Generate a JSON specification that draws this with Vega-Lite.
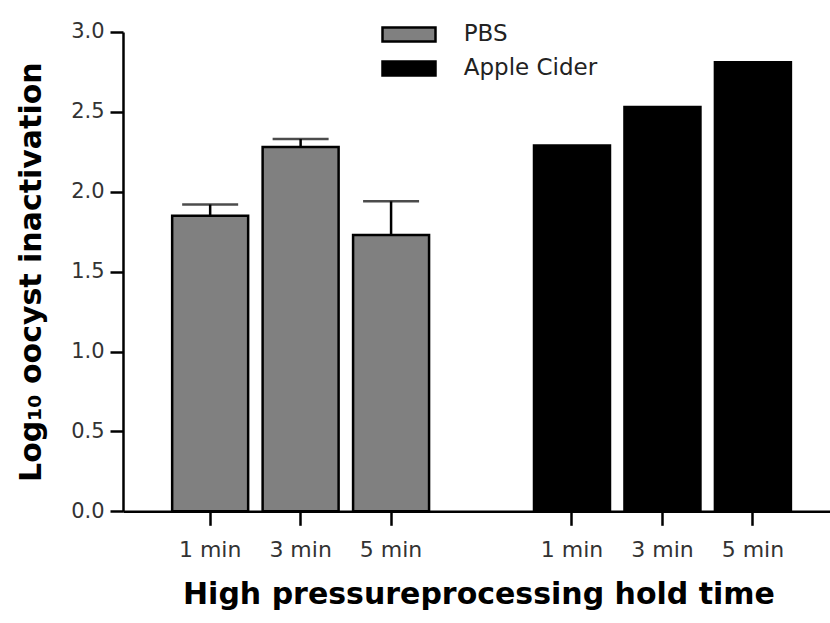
{
  "$schema": "https://vega.github.io/schema/vega-lite/v6.json",
  "background": "white",
  "padding": {"left": 16, "top": 20, "right": 0, "bottom": 8},
  "width": 708.3,
  "height": 479.3,
  "data": {
    "values": [
      {"key": "PBS 1 min", "medium": "PBS", "time": "1 min", "value": 1.85, "upper": 1.92},
      {"key": "PBS 3 min", "medium": "PBS", "time": "3 min", "value": 2.28, "upper": 2.33},
      {"key": "PBS 5 min", "medium": "PBS", "time": "5 min", "value": 1.73, "upper": 1.94},
      {"key": "Apple Cider 1 min", "medium": "Apple Cider", "time": "1 min", "value": 2.29, "upper": null},
      {"key": "Apple Cider 3 min", "medium": "Apple Cider", "time": "3 min", "value": 2.53, "upper": null},
      {"key": "Apple Cider 5 min", "medium": "Apple Cider", "time": "5 min", "value": 2.81, "upper": null}
    ]
  },
  "title": {
    "text": "High pressureprocessing hold time",
    "orient": "bottom",
    "anchor": "middle",
    "frame": "bounds",
    "dx": 55,
    "font": "DejaVu Sans",
    "fontSize": 30,
    "fontWeight": "bold",
    "color": "black",
    "offset": 20
  },
  "config": {
    "view": {"stroke": null},
    "axis": {
      "grid": false,
      "domainColor": "black",
      "domainWidth": 2.5,
      "tickColor": "black",
      "tickWidth": 2.5,
      "labelFont": "DejaVu Sans",
      "labelColor": "#333333",
      "titleFont": "DejaVu Sans",
      "titleColor": "black"
    }
  },
  "encoding": {
    "x": {
      "field": "key",
      "type": "nominal",
      "scale": {
        "domain": ["PBS 1 min", "PBS 3 min", "PBS 5 min", "gap", "Apple Cider 1 min", "Apple Cider 3 min", "Apple Cider 5 min"],
        "paddingInner": 0.16,
        "paddingOuter": 0.495,
        "align": 0.549
      },
      "axis": {
        "title": null,
        "values": ["PBS 1 min", "PBS 3 min", "PBS 5 min", "Apple Cider 1 min", "Apple Cider 3 min", "Apple Cider 5 min"],
        "labelExpr": "slice(datum.label, -5)",
        "labelAngle": 0,
        "labelFontSize": 22,
        "tickSize": 14,
        "labelPadding": 14
      }
    }
  },
  "layer": [
    {
      "mark": {"type": "bar", "stroke": "black", "strokeWidth": 2.5},
      "encoding": {
        "y": {
          "field": "value",
          "type": "quantitative",
          "scale": {"domain": [0, 3], "nice": false},
          "axis": {
            "values": [0, 0.5, 1, 1.5, 2, 2.5, 3],
            "format": ".1f",
            "labelFontSize": 21,
            "tickSize": 13,
            "labelPadding": 6,
            "title": "Log₁₀ oocyst inactivation",
            "titleFontSize": 30,
            "titleFontWeight": "bold",
            "titlePadding": 24
          }
        },
        "color": {
          "field": "medium",
          "type": "nominal",
          "scale": {"domain": ["PBS", "Apple Cider"], "range": ["#808080", "#000000"]},
          "legend": {
            "title": null,
            "orient": "none",
            "legendX": 271.5,
            "legendY": -12,
            "symbolType": "M-2,-0.528H2V0.528H-2Z",
            "symbolSize": 702,
            "symbolStrokeColor": "black",
            "symbolStrokeWidth": 2.5,
            "symbolOpacity": 1,
            "labelFont": "DejaVu Sans",
            "labelFontSize": 23,
            "labelColor": "#222222",
            "labelOffset": 40.25,
            "rowPadding": 7
          }
        }
      }
    },
    {
      "transform": [{"filter": "datum.upper != null"}],
      "mark": {"type": "rule", "color": "black", "strokeWidth": 2.5},
      "encoding": {
        "y": {"field": "value", "type": "quantitative"},
        "y2": {"field": "upper"}
      }
    },
    {
      "transform": [{"filter": "datum.upper != null"}],
      "mark": {"type": "tick", "color": "black", "thickness": 2.5, "size": 56},
      "encoding": {
        "y": {"field": "upper", "type": "quantitative"}
      }
    }
  ]
}
